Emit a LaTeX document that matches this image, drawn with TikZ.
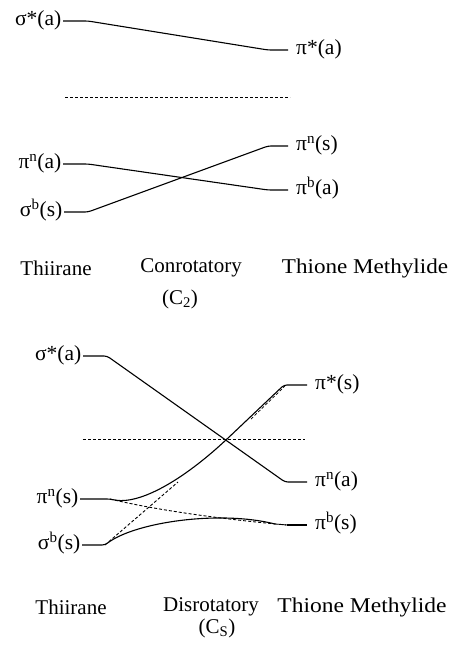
\documentclass[tikz,border=0pt]{standalone}
\usepackage{fontspec}
\setmainfont{Liberation Serif}
\begin{document}
\begin{tikzpicture}[x=1pt,y=-1pt,
  lvl/.style={line width=1.1pt, rounded corners=3pt},
  corr/.style={line width=0.9pt, dash pattern=on 3pt off 2pt},
  lab/.style={font=\fontsize{21.5}{24}\selectfont, inner ysep=1pt, text height=14pt, text depth=4.5pt},
  labL/.style={lab, anchor=east, inner xsep=1.5pt},
  labR/.style={lab, anchor=west, inner xsep=8pt},
  ttl/.style={font=\fontsize{21}{24}\selectfont, inner sep=0pt}]
\useasboundingbox (0,0) rectangle (455,650);

% ---------- top panel: conrotatory ----------
\node[labL] (Lsa) at (63,21) {σ*(a)};
\node[labL] (Lpna) at (63,164) {π\textsuperscript{n}(a)};
\node[labL] (Lsbs) at (64,212) {σ\textsuperscript{b}(s)};
\node[labR] (Rpsa) at (288,50) {π*(a)};
\node[labR] (Rpns) at (288,146) {π\textsuperscript{n}(s)};
\node[labR] (Rpba) at (288,190) {π\textsuperscript{b}(a)};

\coordinate (t1) at (88,21);  \coordinate (t2) at (268,50);
\coordinate (t3) at (88,164); \coordinate (t4) at (268,190);
\coordinate (t5) at (88,212); \coordinate (t6) at (268,146);
\draw[lvl] (Lsa.east) -- (t1) -- (t2) -- (Rpsa.west);
\draw[lvl] (Lpna.east) -- (t3) -- (t4) -- (Rpba.west);
\draw[lvl] (Lsbs.east) -- (t5) -- (t6) -- (Rpns.west);

\coordinate (hA) at (65,97); \coordinate (hB) at (290,97);
\draw[corr] (hA) -- (hB);

\node[ttl] (T1) at (56,268) {Thiirane};
\node[ttl] (T2) at (191,268) {Conrotatory};
\node[ttl] (T3) at (365,268) {\scalebox{1.1}[1]{Thione Methylide}};
\node[ttl] (T4) at (180,299) {(C\textsubscript{2})};

% ---------- bottom panel: disrotatory ----------
\node[labL] (Bsa) at (83,356) {σ*(a)};
\node[labL] (Bpns) at (80,499) {π\textsuperscript{n}(s)};
\node[labL] (Bsbs) at (82,545) {σ\textsuperscript{b}(s)};
\node[labR] (Cpss) at (307,385) {π*(s)};
\node[labR] (Cpna) at (307,482) {π\textsuperscript{n}(a)};
\node[labR] (Cpbs) at (307,525) {π\textsuperscript{b}(s)};

\coordinate (b1) at (107,356); \coordinate (b2) at (285,482);
\coordinate (X) at (227,439);
\coordinate (b3) at (110,499); \coordinate (b4) at (284,385);
\coordinate (b5) at (105,545); \coordinate (b6) at (275,524); \coordinate (b7) at (287,525);
\coordinate (b8) at (178,482);
\coordinate (hC) at (83,439); \coordinate (hD) at (305,439);

\draw[corr] (hC) -- (hD);

\draw[lvl] (Bsa.east) -- (b1) -- (b2) -- (Cpna.west);
\draw[lvl] (Bpns.east) -- (b3) .. controls (140,506) and (185,478) .. (X) -- (b4) -- (Cpss.west);
\draw[lvl] (Bsbs.east) -- (b5) .. controls (135,522) and (220,510) .. (b6);
\draw[lvl] (b7) -- (Cpbs.west);
\draw[corr] (b6) -- (b7);
\draw[corr] (b3) .. controls (160,511) and (230,520) .. (b7);
\draw[corr] (b5) -- (b8);
\draw[corr, line width=0.7pt] ([shift={(1,1)}]250,418) -- ([shift={(1,1)}]b4);

\node[ttl] (U1) at (71,607) {Thiirane};
\node[ttl] (U2) at (211,607) {Disrotatory};
\node[ttl] (U3) at (362,607) {\scalebox{1.12}[1]{Thione Methylide}};
\node[ttl] (U4) at (217,628) {(C\textsubscript{S})};
\end{tikzpicture}
\end{document}
